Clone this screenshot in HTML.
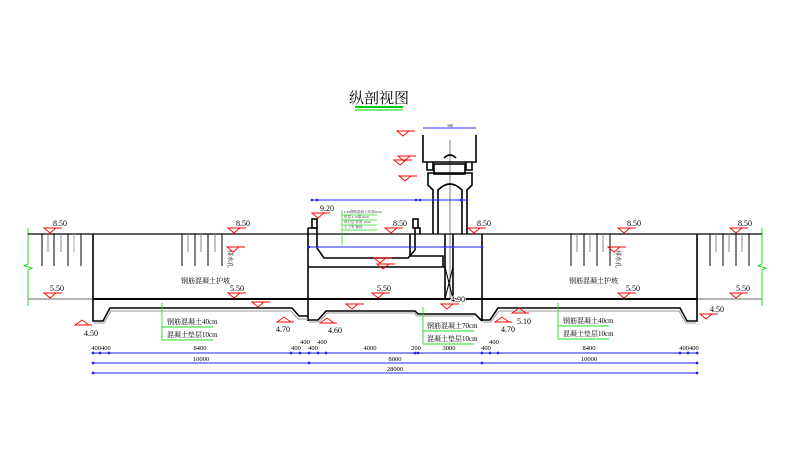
<!DOCTYPE html>
<html><head><meta charset="utf-8"><style>
html,body{margin:0;padding:0;background:#fff;width:800px;height:453px;overflow:hidden}
svg{display:block}
text{font-family:"Liberation Serif","Noto Serif CJK SC",serif}
</style></head><body>
<svg width="800" height="453" viewBox="0 0 800 453" xmlns="http://www.w3.org/2000/svg">
<defs>
<g id="tri"><polygon points="-6,0 6,0 0,5" fill="none" stroke="#f00" stroke-width="0.9"/><line x1="-6" y1="0" x2="12" y2="0" stroke="#f00" stroke-width="0.9"/></g>
<g id="triu"><polygon points="-7,5 7,5 0,0" fill="none" stroke="#f00" stroke-width="0.9"/><line x1="-7" y1="5" x2="10" y2="5" stroke="#f00" stroke-width="0.9"/></g>
</defs>

<text x="379" y="103" font-size="15" text-anchor="middle" fill="#000">纵剖视图</text>
<line x1="355" y1="107" x2="403" y2="107" stroke="#0c0" stroke-width="2"/>
<line x1="355" y1="110" x2="403" y2="110" stroke="#0c0" stroke-width="1"/>

<polyline points="28,228 28,264 24,266 32,268 28,270 28,306" fill="none" stroke="#2d2" stroke-width="1"/>
<polyline points="762,228 762,264 758,266 766,268 762,270 762,306" fill="none" stroke="#2d2" stroke-width="1"/>

<line x1="28" y1="234" x2="762" y2="234" stroke="#000" stroke-width="1.2"/>
<line x1="28" y1="299" x2="93" y2="299" stroke="#999" stroke-width="1.5"/>
<line x1="697" y1="299" x2="762" y2="299" stroke="#999" stroke-width="1.5"/>
<line x1="93" y1="299" x2="697" y2="299" stroke="#000" stroke-width="2"/>

<g stroke="#000" stroke-width="1">
<line x1="42" y1="234" x2="42" y2="266"/><line x1="48" y1="234" x2="48" y2="252" stroke="#888"/><line x1="54" y1="234" x2="54" y2="266"/><line x1="61" y1="234" x2="61" y2="252" stroke="#888"/><line x1="68" y1="234" x2="68" y2="266"/><line x1="74" y1="234" x2="74" y2="252" stroke="#aaa"/><line x1="81" y1="234" x2="81" y2="266"/>
<line x1="182" y1="234" x2="182" y2="266"/><line x1="188" y1="234" x2="188" y2="252" stroke="#888"/><line x1="195" y1="234" x2="195" y2="266"/><line x1="201" y1="234" x2="201" y2="252" stroke="#888"/><line x1="208" y1="234" x2="208" y2="266"/><line x1="215" y1="234" x2="215" y2="252" stroke="#888"/><line x1="222" y1="234" x2="222" y2="266"/>
<line x1="571" y1="234" x2="571" y2="266"/><line x1="577" y1="234" x2="577" y2="252" stroke="#888"/><line x1="584" y1="234" x2="584" y2="266"/><line x1="590" y1="234" x2="590" y2="252" stroke="#888"/><line x1="597" y1="234" x2="597" y2="266"/><line x1="603" y1="234" x2="603" y2="252" stroke="#888"/><line x1="610" y1="234" x2="610" y2="266"/>
<line x1="710" y1="234" x2="710" y2="266"/><line x1="716" y1="234" x2="716" y2="252" stroke="#888"/><line x1="723" y1="234" x2="723" y2="266"/><line x1="729" y1="234" x2="729" y2="252" stroke="#888"/><line x1="736" y1="234" x2="736" y2="266"/><line x1="742" y1="234" x2="742" y2="252" stroke="#888"/><line x1="749" y1="234" x2="749" y2="266"/>
</g>
<text x="228" y="250" font-size="6" transform="rotate(90 228 250)" fill="#000">排水孔</text>
<text x="616" y="250" font-size="6" transform="rotate(90 616 250)" fill="#000">排水孔</text>

<g fill="none" stroke="#000" stroke-width="1.6">
<polyline points="93,234 93,321 103,321 110,308 292,308 299,316 308,316"/>
<polyline points="697,234 697,321 687,321 680,308 498,308 490,320 482,320"/>
<line x1="308" y1="228" x2="308" y2="321"/>
<line x1="482" y1="234" x2="482" y2="321"/>
<polyline points="308,320 318,320 326,311 415,311 418,314 475,314 482,321"/>
</g>
<g fill="none" stroke="#999" stroke-width="1">
<polyline points="94,323 104,323 111,311 291,311 298,319 308,319"/>
<polyline points="696,323 686,323 679,311 499,311 491,322 483,322"/>
<polyline points="309,322 319,322 327,313 414,313 417,316 474,316"/>
</g>

<g fill="none" stroke="#000" stroke-width="1.6">
<rect x="312" y="219" width="5" height="9"/>
<rect x="413" y="219" width="5" height="9"/>
<polyline points="308,228 317,228 317,248 324,258 408,258 415,250 415,228 420,228 420,234"/>
<line x1="308" y1="267" x2="445" y2="267"/>
<polyline points="410,234 410,256 443,256 443,267"/>
<line x1="445" y1="234" x2="445" y2="299"/>
<line x1="453" y1="234" x2="453" y2="299"/>
<line x1="445" y1="267" x2="453" y2="299" stroke-width="1"/>
<line x1="453" y1="267" x2="445" y2="299" stroke-width="1"/>
</g>
<g fill="none" stroke="#000" stroke-width="1.6">
<polyline points="423,135 423,162 476,162 476,135"/>
<polyline points="427,162 427,170 433,170 433,162"/>
<polyline points="466,162 466,170 472,170 472,162"/>
<rect x="434" y="164" width="31" height="10"/>
<path d="M433,234 V190 L428,185 V173 H472 V185 L467,190 V234"/>
<path d="M438,234 V190 Q450,178 462,190 V234"/>
<path d="M444,158 Q450,152 456,158"/>
</g>
<line x1="450" y1="140" x2="450" y2="300" stroke="#000" stroke-width="0.5"/>
<line x1="423" y1="128" x2="476" y2="128" stroke="#33f" stroke-width="1"/>
<text x="450" y="127" font-size="4" text-anchor="middle">100</text>

<g stroke="#22f" stroke-width="1">
<line x1="312" y1="200" x2="467" y2="200"/>
<line x1="309" y1="247" x2="482" y2="247"/>
</g>
<g fill="#22f"><circle cx="312" cy="200" r="1.3"/><circle cx="317" cy="200" r="1.3"/><circle cx="416" cy="200" r="1.3"/><circle cx="420" cy="200" r="1.3"/><circle cx="433" cy="200" r="1.3"/><circle cx="438" cy="200" r="1.3"/><circle cx="461" cy="200" r="1.3"/><circle cx="467" cy="200" r="1.3"/>
<circle cx="309" cy="247" r="1.3"/><circle cx="317" cy="247" r="1.3"/><circle cx="445" cy="247" r="1.3"/><circle cx="453" cy="247" r="1.3"/><circle cx="482" cy="247" r="1.3"/></g>

<g stroke="#2d2" stroke-width="0.8" fill="none">
<line x1="342" y1="210" x2="342" y2="245"/>
<line x1="342" y1="215" x2="377" y2="215"/><line x1="342" y1="220" x2="377" y2="220"/><line x1="342" y1="225" x2="377" y2="225"/><line x1="342" y1="230" x2="377" y2="230"/>
</g>
<g font-size="3.5" fill="#333"><text x="344" y="213">C30钢筋混凝土厚度60cm</text><text x="344" y="218">垫层 C15厚10cm</text><text x="344" y="223">碎石层 厚度 10cm</text><text x="344" y="228">土工布 铺设</text></g>

<g>
<use href="#tri" x="50" y="228"/><use href="#tri" x="234" y="228"/><use href="#tri" x="318" y="213"/><use href="#tri" x="391" y="228"/><use href="#tri" x="474" y="228"/><use href="#tri" x="624" y="228"/><use href="#tri" x="736" y="228"/>
<use href="#tri" x="50" y="293"/><use href="#tri" x="234" y="293"/><use href="#tri" x="378" y="293"/><use href="#tri" x="624" y="293"/><use href="#tri" x="736" y="293"/>
<use href="#tri" x="447" y="304"/><use href="#tri" x="706" y="314"/>
<use href="#tri" x="403" y="131"/><use href="#tri" x="404" y="156"/><use href="#tri" x="400" y="160"/><use href="#tri" x="405" y="176"/>
<use href="#tri" x="258" y="302"/><use href="#tri" x="352" y="304"/><use href="#tri" x="380" y="258"/><use href="#tri" x="383" y="264"/><use href="#tri" x="233" y="247"/><use href="#tri" x="614" y="247"/>
<use href="#triu" x="82" y="320"/><use href="#triu" x="284" y="317"/><use href="#triu" x="327" y="318"/><use href="#triu" x="502" y="317"/><use href="#triu" x="519" y="308"/>
</g>
<g font-size="8" fill="#000">
<text x="53" y="226">8.50</text><text x="236" y="226">8.50</text><text x="320" y="211">9.20</text><text x="393" y="226">8.50</text><text x="477" y="226">8.50</text><text x="627" y="226">8.50</text><text x="738" y="226">8.50</text>
<text x="50" y="291">5.50</text><text x="230" y="291">5.50</text><text x="377" y="291">5.50</text><text x="626" y="291">5.50</text><text x="736" y="291">5.50</text>
<text x="451" y="302" style="paint-order:stroke" stroke="#fff" stroke-width="2">4.90</text><text x="710" y="312">4.50</text>
<text x="84" y="336">4.50</text><text x="276" y="332">4.70</text><text x="328" y="333">4.60</text><text x="501" y="332">4.70</text><text x="517" y="324">5.10</text>
</g>
<g font-size="7" fill="#000">
<text x="181" y="283">钢筋混凝土护坡</text><text x="569" y="283">钢筋混凝土护坡</text>
<text x="167" y="324">钢筋混凝土40cm</text><text x="167" y="337">混凝土垫层10cm</text>
<text x="427" y="328">钢筋混凝土70cm</text><text x="427" y="341">混凝土垫层10cm</text>
<text x="563" y="323">钢筋混凝土40cm</text><text x="563" y="336">混凝土垫层10cm</text>
</g>
<g stroke="#2d2" stroke-width="0.9">
<line x1="162" y1="303" x2="162" y2="340"/><line x1="162" y1="327" x2="213" y2="327"/><line x1="162" y1="340" x2="213" y2="340"/>
<line x1="423" y1="307" x2="423" y2="344"/><line x1="423" y1="331" x2="474" y2="331"/><line x1="423" y1="344" x2="474" y2="344"/>
<line x1="558" y1="303" x2="558" y2="339"/><line x1="558" y1="326" x2="609" y2="326"/><line x1="558" y1="339" x2="609" y2="339"/>
</g>

<g stroke="#22f" stroke-width="1.1">
<line x1="93" y1="353" x2="697" y2="353"/>
<line x1="93" y1="363" x2="697" y2="363"/>
<line x1="93" y1="373" x2="697" y2="373"/>
</g>
<g fill="#22f">
<circle cx="93" cy="353" r="1.4"/><circle cx="100" cy="353" r="1.4"/><circle cx="109" cy="353" r="1.4"/><circle cx="291" cy="353" r="1.4"/><circle cx="300" cy="353" r="1.4"/><circle cx="309" cy="353" r="1.4"/><circle cx="318" cy="353" r="1.4"/><circle cx="326" cy="353" r="1.4"/><circle cx="415" cy="353" r="1.4"/><circle cx="418" cy="353" r="1.4"/><circle cx="482" cy="353" r="1.4"/><circle cx="490" cy="353" r="1.4"/><circle cx="498" cy="353" r="1.4"/><circle cx="680" cy="353" r="1.4"/><circle cx="688" cy="353" r="1.4"/><circle cx="697" cy="353" r="1.4"/>
<circle cx="93" cy="363" r="1.4"/><circle cx="309" cy="363" r="1.4"/><circle cx="482" cy="363" r="1.4"/><circle cx="697" cy="363" r="1.4"/>
<circle cx="93" cy="373" r="1.4"/><circle cx="697" cy="373" r="1.4"/>
</g>
<g font-size="6.5" fill="#000" text-anchor="middle">
<text x="101" y="350">400400</text><text x="200" y="350">8400</text><text x="296" y="350">400</text><text x="313" y="350">400</text><text x="305" y="344">400</text><text x="322" y="344">400</text>
<text x="370" y="350">4000</text><text x="416" y="350">200</text><text x="449" y="350">3000</text><text x="486" y="350">400</text><text x="494" y="344">400</text><text x="589" y="350">8400</text><text x="689" y="350">400400</text>
<text x="201" y="361">10000</text><text x="395" y="361">8000</text><text x="589" y="361">10000</text>
<text x="395" y="371">28000</text>
</g>
</svg>
</body></html>
